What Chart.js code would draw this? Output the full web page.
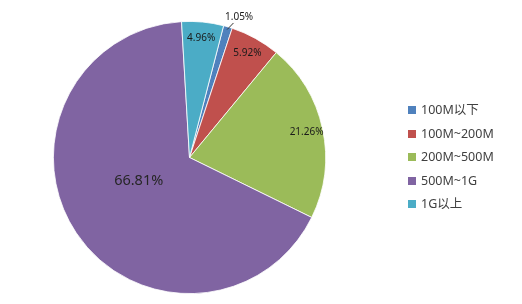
<!DOCTYPE html>
<html>
<head>
<meta charset="utf-8">
<script src="https://cdn.jsdelivr.net/npm/chart.js@4.4.0/dist/chart.umd.min.js"></script>
<style>
  html, body { margin: 0; padding: 0; background: #fff; }
  #wrap { position: relative; width: 522px; height: 304px; }
  #legenda { position: absolute; left: 408px; top: 101px; font-family: "Noto Sans", "Noto Sans CJK SC", sans-serif; font-size: 12.5px; color: #404040; }
  #legenda div { height: 23.5px; line-height: 18px; white-space: nowrap; }
  #legenda span { display: inline-block; width: 8px; height: 8px; margin-right: 5px; vertical-align: 0px; }
</style>
</head>
<body>
<div id="wrap">
  <canvas id="chart-pizza" width="522" height="304"></canvas>
  <div id="legenda"></div>
</div>
<script>
  // dados
  const categorias = ["100M以下", "100M~200M", "200M~500M", "500M~1G", "1G以上"];
  const porcentagens = [1.05, 5.92, 21.26, 66.81, 4.96];
  const cores = ["#4F81BD", "#C0504D", "#9BBB59", "#8064A2", "#4BACC6"];

  // legenda em html
  var legenda = document.getElementById("legenda");
  for (var i = 0; i < categorias.length; i++) {
    legenda.innerHTML += `<div><span style="background:${cores[i]}"></span>${categorias[i]}</div>`;
  }

  // rotulos das fatias
  const rotulos = {
    id: "rotulos",
    afterDatasetsDraw(chart) {
      const ctx = chart.ctx;
      const arcs = chart.getDatasetMeta(0).data;
      ctx.save();
      ctx.textAlign = "center";
      ctx.textBaseline = "middle";
      arcs.forEach(function (arc, i) {
        const p = arc.getProps(["x", "y", "startAngle", "endAngle", "outerRadius"], true);
        const meio = (p.startAngle + p.endAngle) / 2;
        const texto = porcentagens[i].toFixed(2) + "%";
        let r = p.outerRadius * 0.88;
        ctx.font = "10px 'Noto Sans', sans-serif";
        ctx.fillStyle = "#1a1a1a";
        if (porcentagens[i] < 2) {
          // fora da pizza com linha
          const r1 = p.outerRadius * 0.98, r2 = p.outerRadius * 1.04;
          ctx.strokeStyle = "#333";
          ctx.lineWidth = 1;
          ctx.beginPath();
          ctx.moveTo(p.x + Math.cos(meio) * r1, p.y + Math.sin(meio) * r1);
          ctx.lineTo(p.x + Math.cos(meio + 0.03) * r2, p.y + Math.sin(meio + 0.03) * r2);
          ctx.stroke();
          ctx.fillText(texto, p.x + Math.cos(meio + 0.04) * (r2 + 7) + 2, p.y + Math.sin(meio + 0.04) * (r2 + 7));
        } else if (porcentagens[i] > 50) {
          r = p.outerRadius * 0.41;
          ctx.font = "14.5px 'Noto Sans', sans-serif";
          ctx.fillStyle = "#262626";
          ctx.fillText(texto, p.x + Math.cos(meio + 0.16) * r, p.y + Math.sin(meio + 0.16) * r);
        } else {
          ctx.fillText(texto, p.x + Math.cos(meio) * r, p.y + Math.sin(meio) * r);
        }
      });
      ctx.restore();
    }
  };

  const ctp = document.getElementById("chart-pizza");

  new Chart(ctp, {
    type: "pie",
    data: {
      labels: categorias,
      datasets: [
        {
          data: porcentagens,
          backgroundColor: cores,
          borderColor: "#ffffff",
          borderWidth: 0.8,
        },
      ],
    },
    options: {
      responsive: false,
      animation: false,
      rotation: 14.5,
      layout: {
        padding: {
          left: 53,
          right: 196,
          top: 21,
          bottom: 10
        }
      },
      plugins: {
        legend: { display: false },
        tooltip: { enabled: false }
      }
    },
    plugins: [rotulos]
  });
</script>
</body>
</html>
